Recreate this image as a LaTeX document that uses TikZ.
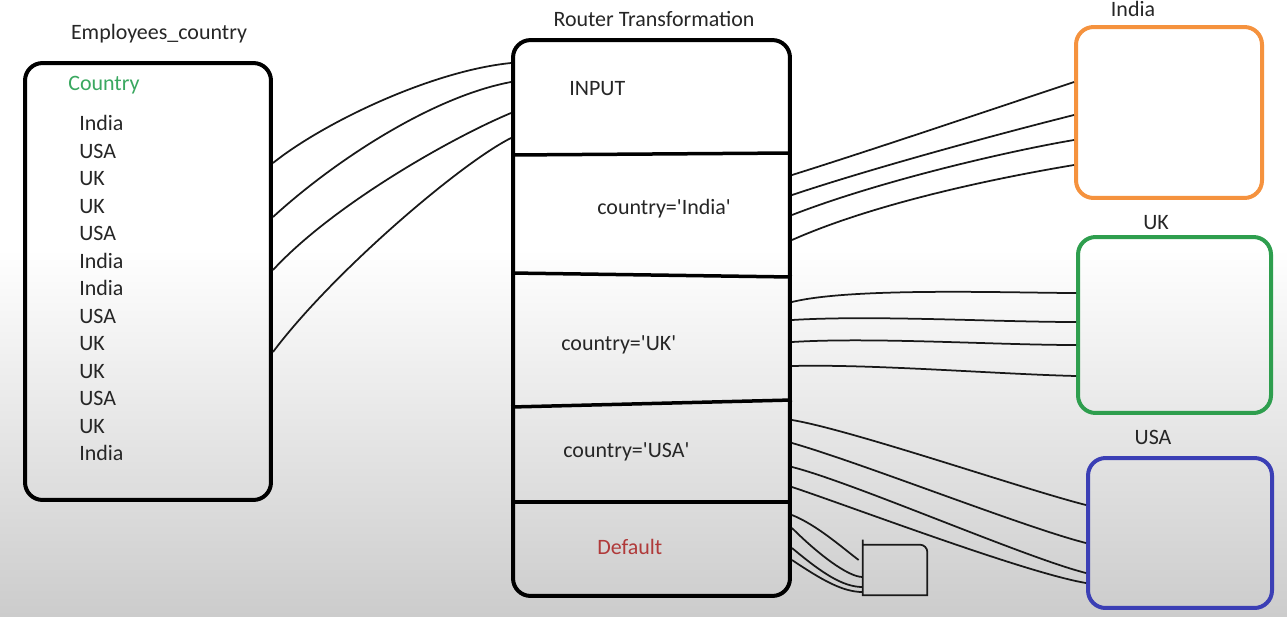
\documentclass[tikz,border=0pt]{standalone}
\usepackage{fontspec}
\setmainfont{Carlito}
\usetikzlibrary{positioning}

\definecolor{indiaorange}{HTML}{F5923E}
\definecolor{ukgreen}{HTML}{2E9E4E}
\definecolor{usablue}{HTML}{3B3FB5}
\definecolor{colgreen}{HTML}{3AA860}
\definecolor{defred}{HTML}{B03A3A}

\begin{document}
\begin{tikzpicture}[
  x=0.02cm, y=-0.02cm,
  title/.style={font=\fontsize{12.5}{15}\selectfont, inner sep=0pt, text height=.64em, text depth=0pt, text=black!85},
  item/.style={title, anchor=west},
  bigbox/.style={draw=black, line width=0.08cm, rounded corners=0.35cm},
  outbox/.style={line width=0.08cm, rounded corners=0.35cm},
  divider/.style={line width=0.07cm},
  wire/.style={line width=0.035cm, black!90}
]

% background
\fill[white] (0,0) rectangle (1287,250);
\shade[top color=white, bottom color=black!20] (0,249) rectangle (1287,616);
\useasboundingbox (0,0) rectangle (1287,616);

% source table
\node (emp) [bigbox, minimum width=4.92cm, minimum height=8.74cm] at (148,281.5) {};
\node (empT) [title, above=.42cm of emp, xshift=.22cm] {Employees\_country};
\node (colT) [item, text=colgreen] at (68,85) {Country};
\foreach \c [count=\i] in {India,USA,UK,UK,USA,India,India,USA,UK,UK,USA,UK,India}
  \node (row\i) [item] at (79,97.5+27.5*\i) {\c};

% router
\node (router) [bigbox, minimum width=5.54cm, minimum height=11.12cm] at (651.5,318) {};
\node (routerT) [title, above=.22cm of router, xshift=.05cm] {Router Transformation};
\foreach \l/\r in {155/153, 273/277, 407/400, 502/502}
  \draw[divider] (router.west |- 0,\l) -- (router.east |- 0,\r);
\node (inputT) [item] at (569,90) {INPUT};
\node (indiaC) [item] at (597,209) {country=\textquotesingle India\textquotesingle};
\node (ukC) [item] at (561,345) {country=\textquotesingle UK\textquotesingle};
\node (usaC) [item] at (563,452) {country=\textquotesingle USA\textquotesingle};
\node (defC) [item, text=defred] at (597,549) {Default};

% targets
\node (india) [outbox, draw=indiaorange, minimum width=3.72cm, minimum height=3.42cm] at (1169,112.5) {};
\node (indiaT) [title, above=.16cm of india, xshift=-.72cm] {India};
\node (uk) [outbox, draw=ukgreen, minimum width=3.86cm, minimum height=3.52cm] at (1174.5,325) {};
\node (ukT) [title, above=.1cm of uk, xshift=-.37cm] {UK};
\node (usa) [outbox, draw=usablue, minimum width=3.68cm, minimum height=3cm] at (1180,533) {};
\node (usaT) [title, above=.22cm of usa, xshift=-.54cm] {USA};
\node (bin) [minimum width=1.28cm, minimum height=1cm, inner sep=0pt] at (895,570) {};
\draw[wire] ([yshift=.1cm]bin.north west) -- (bin.south west) -- (bin.south east) [rounded corners=.15cm] -- (bin.north east) -- (bin.north west);

% table -> input
\draw[wire] (emp.east |- 0,163) .. controls +(50,-40) and +(-80,8) .. (router.west |- 0,63);
\draw[wire] (emp.east |- 0,217) .. controls +(60,-55) and +(-80,15) .. (router.west |- 0,82);
\draw[wire] (emp.east |- 0,270) .. controls +(60,-65) and +(-60,25) .. (router.west |- 0,113);
\draw[wire] (emp.east |- 0,352) .. controls +(60,-80) and +(-50,25) .. (router.west |- 0,138);

% india group
\draw[wire] (router.east |- 0,175) .. controls +(80,-25) and +(-60,20) .. (india.west |- 0,82);
\draw[wire] (router.east |- 0,195) .. controls +(90,-30) and +(-60,15) .. (india.west |- 0,115);
\draw[wire] (router.east |- 0,215) .. controls +(90,-35) and +(-60,10) .. (india.west |- 0,140);
\draw[wire] (router.east |- 0,240) .. controls +(90,-40) and +(-60,10) .. (india.west |- 0,165);

% uk group
\draw[wire] (router.east |- 0,302) .. controls +(60,-15) and +(-60,0) .. (uk.west |- 0,293);
\draw[wire] (router.east |- 0,320) .. controls +(80,-5) and +(-80,0) .. (uk.west |- 0,322);
\draw[wire] (router.east |- 0,342) .. controls +(80,-5) and +(-80,0) .. (uk.west |- 0,345);
\draw[wire] (router.east |- 0,366) .. controls +(80,-2) and +(-80,-2) .. (uk.west |- 0,376);

% usa group
\draw[wire] (router.east |- 0,420) .. controls +(60,10) and +(-60,-15) .. (usa.west |- 0,505);
\draw[wire] (router.east |- 0,443) .. controls +(70,20) and +(-60,-15) .. (usa.west |- 0,543);
\draw[wire] (router.east |- 0,467) .. controls +(60,15) and +(-60,-15) .. (usa.west |- 0,573);
\draw[wire] (router.east |- 0,487) .. controls +(60,20) and +(-60,-10) .. (usa.west |- 0,583);

% default group
\draw[wire, shorten >=.1cm] (router.east |- 0,515) .. controls +(25,10) and +(-20,-15) .. (bin.west |- 0,563);
\draw[wire] (router.east |- 0,528) .. controls +(25,25) and +(-15,0) .. (bin.west |- 0,577);
\draw[wire] (router.east |- 0,548) .. controls +(30,25) and +(-20,0) .. (bin.west |- 0,587);
\draw[wire] (router.east |- 0,560) .. controls +(30,20) and +(-20,0) .. (bin.west |- 0,592);

\end{tikzpicture}
\end{document}
